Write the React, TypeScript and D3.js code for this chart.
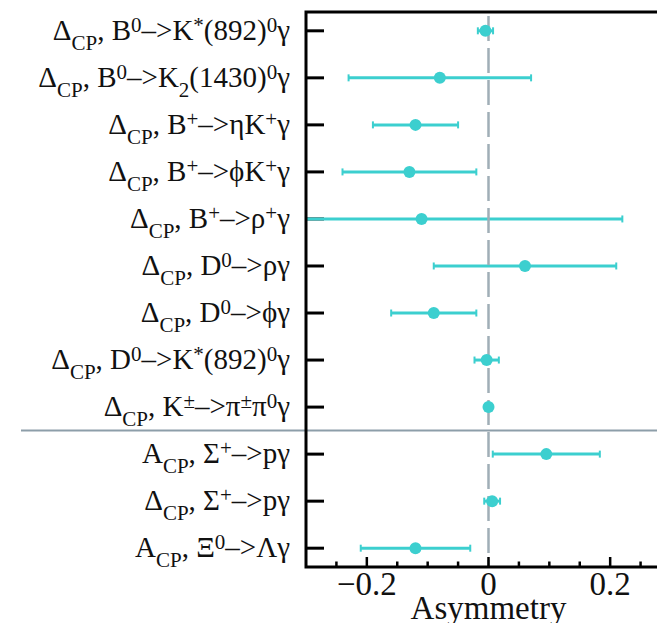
import React from "react";
import * as d3 from "d3";

const labels = [
  "Δ_{CP}, B^{0}–>K^{*}(892)^{0}γ",
  "Δ_{CP}, B^{0}–>K_{2}(1430)^{0}γ",
  "Δ_{CP}, B^{+}–>ηK^{+}γ",
  "Δ_{CP}, B^{+}–>ϕK^{+}γ",
  "Δ_{CP}, B^{+}–>ρ^{+}γ",
  "Δ_{CP}, D^{0}–>ργ",
  "Δ_{CP}, D^{0}–>ϕγ",
  "Δ_{CP}, D^{0}–>K^{*}(892)^{0}γ",
  "Δ_{CP}, K^{±}–>π^{±}π^{0}γ",
  "A_{CP}, Σ^{+}–>pγ",
  "Δ_{CP}, Σ^{+}–>pγ",
  "A_{CP}, Ξ^{0}–>Λγ",
];
const values = [-0.005, -0.08, -0.12, -0.13, -0.11, 0.06, -0.09, -0.003, 0.0, 0.095, 0.006, -0.12];
const errors = [0.0125, 0.15, 0.07, 0.11, 0.33, 0.15, 0.07, 0.02, 0.0, 0.088, 0.013, 0.09];
const majorTicks = [-0.2, 0, 0.2];
const minorTicks = [-0.25, -0.15, -0.1, -0.05, 0.05, 0.1, 0.15, 0.25];
const xLabel = "Asymmetry";
const separatorAfter = 8;

const W = 657, H = 623;
const L = 306, R = 671, T = 12, B = 567;
const FONT = "'Liberation Serif', 'Times New Roman', serif";
const CYAN = "#3ccfcf";

function parseLabel(s: string) {
  const parts = s.split(/(_\{[^}]*\}|\^\{[^}]*\})/).filter((p) => p.length);
  return parts.map((p) => {
    if (p.startsWith("_{")) return { t: p.slice(2, -1), kind: "sub" };
    if (p.startsWith("^{")) return { t: p.slice(2, -1), kind: "sup" };
    return { t: p, kind: "norm" };
  });
}

function Label({ s, x, y }: { s: string; x: number; y: number }) {
  const segs = parseLabel(s);
  let cur = 0;
  const spans = segs.map((g, i) => {
    const target = g.kind === "sub" ? 10 : g.kind === "sup" ? -8 : 0;
    const dy = target - cur;
    cur = target;
    const fs = g.kind === "norm" ? 29 : 21;
    return (
      <tspan key={i} dy={dy} fontSize={fs}>
        {g.t}
      </tspan>
    );
  });
  return (
    <text x={x} y={y} textAnchor="end" fontFamily={FONT} fill="#111">
      {spans}
    </text>
  );
}

export default function App() {
  const x = d3.scaleLinear().domain([-0.3, 0.3]).range([L, R]);
  const y = d3.scalePoint<number>().domain(d3.range(labels.length)).range([T, B]).padding(0.4);
  const sepY = ((y(separatorAfter) as number) + (y(separatorAfter + 1) as number)) / 2;
  return (
    <svg width={W} height={H} style={{ position: "absolute", left: 0, top: 0, background: "#fff" }}>
      <defs>
        <clipPath id="plotclip">
          <rect x={L} y={T} width={R - L} height={B - T} />
        </clipPath>
      </defs>
      {labels.map((s, i) => (
        <Label key={i} s={s} x={290} y={(y(i) as number) + 9} />
      ))}
      {labels.map((_, i) => (
        <line key={i} x1={L} x2={L + 18} y1={y(i)} y2={y(i)} stroke="#000" strokeWidth={3} />
      ))}
      <g clipPath="url(#plotclip)">
        {values.map((v, i) => {
          const yy = y(i) as number;
          const x0 = x(v - errors[i]);
          const x1 = x(v + errors[i]);
          return (
            <g key={i} stroke={CYAN}>
              <line x1={x0} x2={x1} y1={yy} y2={yy} strokeWidth={3} />
              <line x1={x0} x2={x0} y1={yy - 3.5} y2={yy + 3.5} strokeWidth={2} />
              <line x1={x1} x2={x1} y1={yy - 3.5} y2={yy + 3.5} strokeWidth={2} />
            </g>
          );
        })}
      </g>
      <line x1={x(0)} x2={x(0)} y1={T + 4} y2={B} stroke="#a0aeb7" strokeWidth={2.5} strokeDasharray="25 7" />
      {values.map((v, i) => (
        <circle key={i} cx={x(v)} cy={y(i)} r={6} fill={CYAN} />
      ))}
      <line x1={21} x2={W} y1={sepY} y2={sepY} stroke="#8d9ea9" strokeWidth={2} />
      <path d={`M${R + 10},${T} H${L} V${B} H${R + 10}`} fill="none" stroke="#000" strokeWidth={3} />
      {majorTicks.map((t) => (
        <line key={"M" + t} x1={x(t)} x2={x(t)} y1={B} y2={B - 10} stroke="#000" strokeWidth={2.5} />
      ))}
      {minorTicks.map((t) => (
        <line key={"m" + t} x1={x(t)} x2={x(t)} y1={B} y2={B - 5.5} stroke="#000" strokeWidth={2.5} />
      ))}
      {majorTicks.map((t) => (
        <text key={"l" + t} x={x(t)} y={595} textAnchor="middle" fontFamily={FONT} fontSize={33} fill="#111">
          {t === 0 ? "0" : d3.format(".1f")(t).replace("-", "−")}
        </text>
      ))}
      <text x={x(0)} y={619} textAnchor="middle" fontFamily={FONT} fontSize={33} fill="#111">
        {xLabel}
      </text>
    </svg>
  );
}
